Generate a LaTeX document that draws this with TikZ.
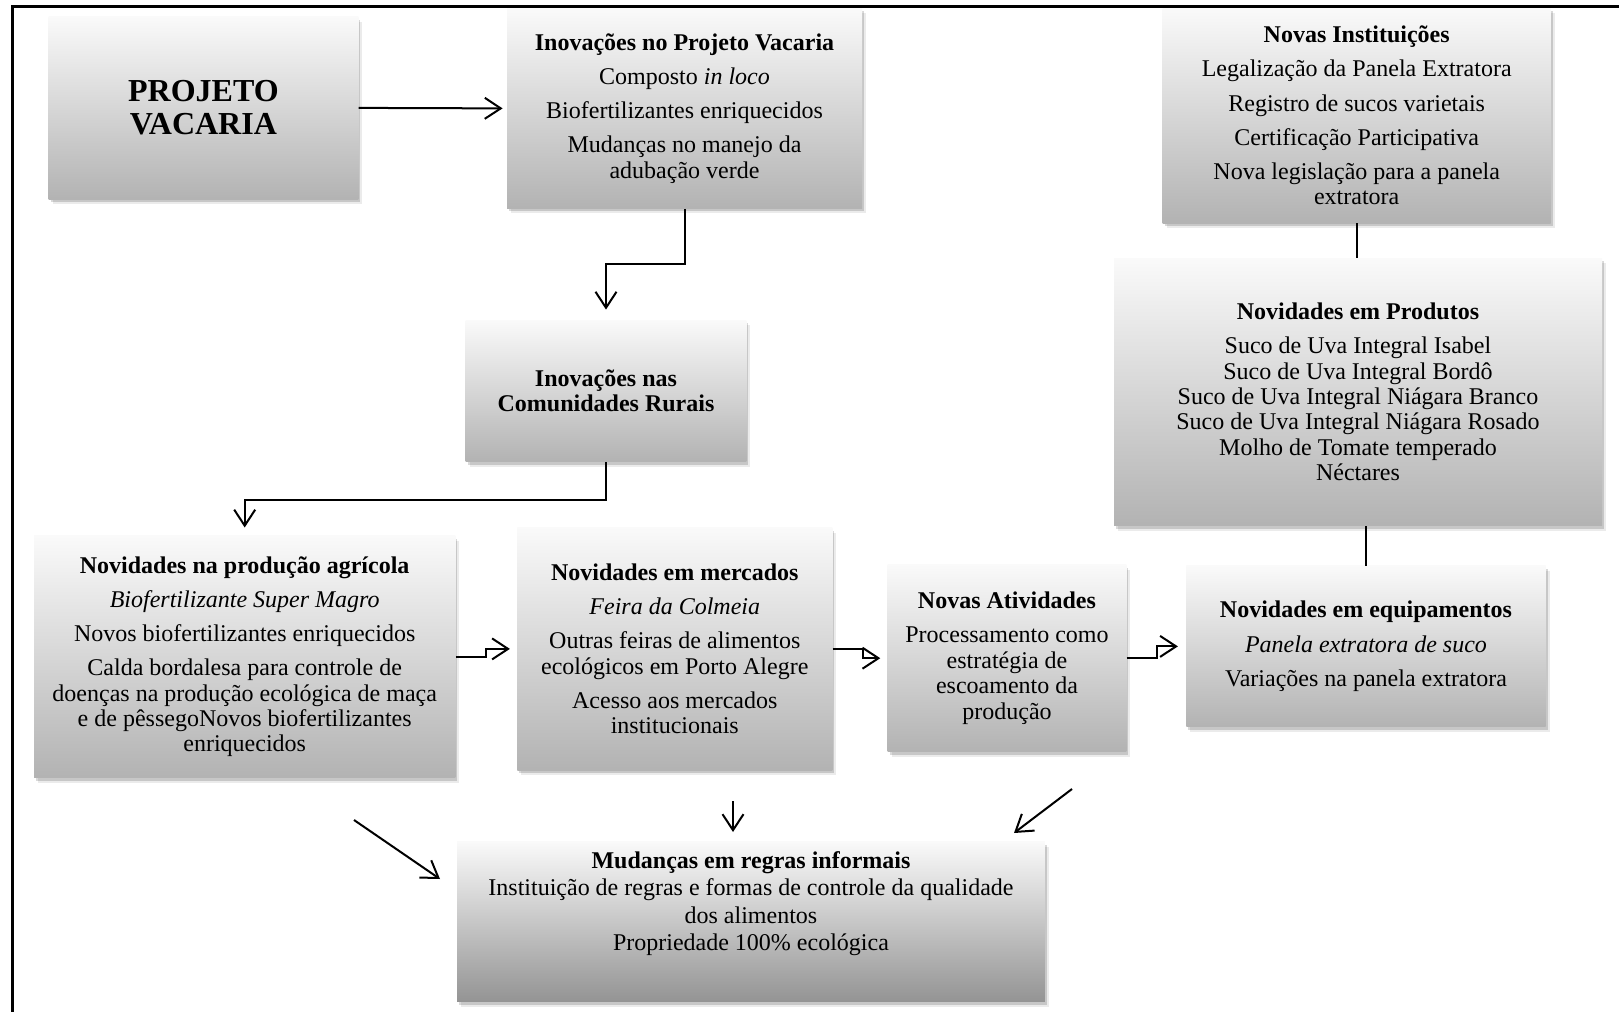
\documentclass[tikz,border=0pt]{standalone}
\usepackage{fontspec}
\setmainfont{Liberation Serif}
\usetikzlibrary{arrows.meta,shadows,calc}
\begin{document}
\begin{tikzpicture}[x=0.5pt,y=-0.5pt,
  box/.style={draw=none, top color=black!2, bottom color=black!30,
    drop shadow={shadow xshift=2pt,shadow yshift=-2.5pt,fill=black,opacity=0.08},
    drop shadow={shadow xshift=1pt,shadow yshift=-1.5pt,fill=black,opacity=0.15},
    inner sep=0pt, align=center, font=\fontsize{12}{12.7}\selectfont},
  conn/.style={line width=1pt, draw=black},
  arr/.style={conn, -{Straight Barb[length=8pt,width=10.5pt,line width=1pt]}},
]
\useasboundingbox (0,0) rectangle (1619,1012);
\fill[white] (0,0) rectangle (1619,1012);
\draw[line width=1.5pt] (12,1012) -- (12,6) -- (1619,6);

\def\ps{\\[4.4pt]}

\node[box, minimum width=154.9pt, minimum height=91.4pt, font=\fontsize{16}{16.5}\selectfont\bfseries] (proj) at (203.4,107.9) {PROJETO\\VACARIA};

\node[box, minimum width=177.5pt, minimum height=100pt] (inov) at (684.5,108.4)
 {\textbf{Inovações no Projeto Vacaria}\ps Composto \textit{in loco}\ps Biofertilizantes enriquecidos\ps Mudanças no manejo da\\ adubação verde};

\node[box, minimum width=194pt, minimum height=107.4pt] (inst) at (1356.7,115.6)
 {\textbf{Novas Instituições}\ps Legalização da Panela Extratora\ps Registro de sucos varietais\ps Certificação Participativa\ps Nova legislação para a panela\\ extratora};

\node[box, minimum width=244pt, minimum height=133.8pt] (prod) at (1358,391.8)
 {\textbf{Novidades em Produtos}\ps Suco de Uva Integral Isabel\\ Suco de Uva Integral Bordô\\ Suco de Uva Integral Niágara Branco\\ Suco de Uva Integral Niágara Rosado\\ Molho de Tomate temperado\\ Néctares};

\node[box, minimum width=140.4pt, minimum height=70.8pt] (com) at (606,390.8)
 {\textbf{Inovações nas}\\ \textbf{Comunidades Rurais}};

\node[box, minimum width=210.7pt, minimum height=120.8pt] (agr) at (244.7,656.7)
 {\textbf{Novidades na produção agrícola}\ps \textit{Biofertilizante Super Magro}\ps Novos biofertilizantes enriquecidos\ps Calda bordalesa para controle de\\ doenças na produção ecológica de maça\\ e de pêssegoNovos biofertilizantes\\ enriquecidos};

\node[box, minimum width=157.5pt, minimum height=121.3pt] (merc) at (674.8,648.9)
 {\textbf{Novidades em mercados}\ps \textit{Feira da Colmeia}\ps Outras feiras de alimentos\\ ecológicos em Porto Alegre\ps Acesso aos mercados\\ institucionais};

\node[box, minimum width=119.3pt, minimum height=93.5pt] (ativ) at (1007,658.2)
 {\textbf{Novas Atividades}\ps Processamento como\\ estratégia de\\ escoamento da\\ produção};

\node[box, minimum width=179.7pt, minimum height=80.5pt] (equip) at (1366,646.4)
 {\textbf{Novidades em equipamentos}\ps \textit{Panela extratora de suco}\ps Variações na panela extratora};

\node[box, bottom color=black!42, minimum width=293.8pt, minimum height=80pt] (mud) at (751,921.5) {};
\node[anchor=north, inner sep=0pt, align=center, font=\fontsize{12}{13.7}\selectfont] (mudtext) at ([yshift=-5pt]mud.north)
 {\textbf{Mudanças em regras informais}\\ Instituição de regras e formas de controle da qualidade\\ dos alimentos\\ Propriedade 100\% ecológica};

\draw[arr, shorten >=2pt] (proj.east) -- (inov.west);
\draw[arr, shorten >=5pt] (inov.south) -- ++(0,55) -| (com.north);
\draw[arr, shorten >=4pt] (com.south) -- ++(0,37.5) -| (agr.north);
\draw[arr, shorten >=3.5pt] (agr.east) -- ++(30,0) |- (merc.west);
\draw[arr, shorten >=3.5pt] (merc.east) -- ++(30,0) |- (ativ.west);
\draw[arr, shorten >=4pt] (ativ.east) -- ++(30,0) |- (equip.west);
\draw[conn] (inst.south) -- (inst.south |- prod.north);
\draw[conn] (equip.north |- prod.south) -- (equip.north);

\coordinate (a1) at (354,820); \coordinate (b1) at (440,879);
\coordinate (a2) at (733,801); \coordinate (b2) at (733,832);
\coordinate (a3) at (1072,789); \coordinate (b3) at (1014,833);
\draw[arr] (a1) -- (b1);
\draw[arr] (a2) -- (b2);
\draw[arr] (a3) -- (b3);
\end{tikzpicture}
\end{document}
